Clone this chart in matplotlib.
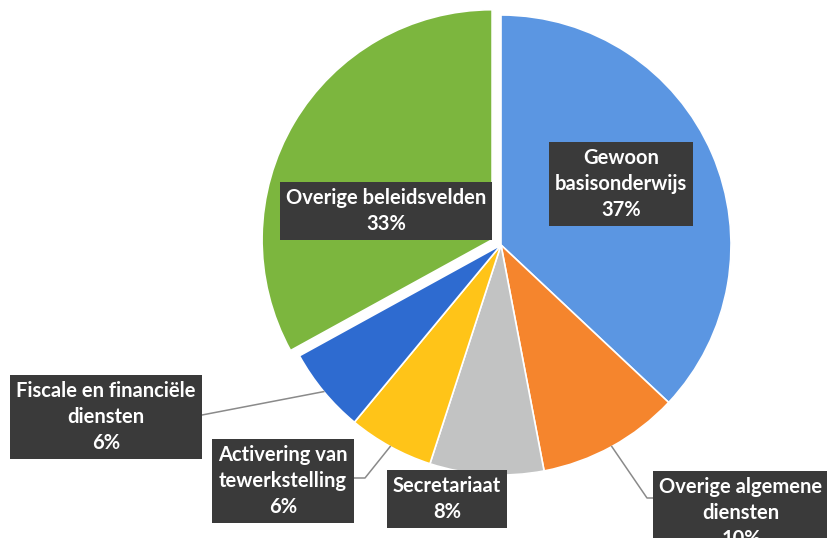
import numpy as np
import matplotlib.pyplot as plt

# slices, clockwise from 12 o'clock
labels = ['Gewoon\nbasisonderwijs', 'Overige algemene\ndiensten', 'Secretariaat',
          'Activering van\ntewerkstelling', 'Fiscale en financiële\ndiensten',
          'Overige beleidsvelden']
values = [37, 10, 8, 6, 6, 33]
colors = ['#5b96e2', '#f5852d', '#c2c3c3', '#ffc418', '#2e6bd0', '#7cb63e']
explode = [0, 0, 0, 0, 0, 0.045]

W, H = 827, 538
CX, CY, R = 501, 245, 230          # pie centre / radius in image pixels

# label box centres (image pixels) and optional elbow point of the leader line
label_pos = [(621, 184), (741, 513), (447, 499), (283, 481), (106, 417), (386, 211)]
elbows = [None, [(647, 498), (653, 498)], None, [(365, 478), (353, 478)],
          [(202, 415)], None]


def fy(y):
    return H - y


fig = plt.figure(figsize=(W / 100, H / 100), dpi=100)
ax = fig.add_axes([0, 0, 1, 1])

# pie() takes explode in data units, so scale by the radius
wedges, _ = ax.pie(values, colors=colors, explode=[e * R for e in explode],
                   startangle=90, counterclock=False, center=(CX, fy(CY)),
                   radius=R, wedgeprops=dict(edgecolor='white', linewidth=1.2),
                   frame=True)
ax.set_xlim(0, W)
ax.set_ylim(0, H)
ax.axis('off')

# leader lines from the middle of the wedge rim to the box
for w, el in zip(wedges, elbows):
    if el is None:
        continue
    mid = np.deg2rad((w.theta1 + w.theta2) / 2)
    px = w.center[0] + w.r * np.cos(mid)
    py = w.center[1] + w.r * np.sin(mid)
    xs = [px] + [p[0] for p in el]
    ys = [py] + [fy(p[1]) for p in el]
    ax.plot(xs, ys, color='#8a8a8a', lw=1.1, zorder=3)

for lab, v, (x, y) in zip(labels, values, label_pos):
    ax.text(x, fy(y), f'{lab}\n{v}%', ha='center', va='center',
            color='white', fontsize=14.5, fontweight='bold', family='Lato',
            linespacing=1.4, zorder=5,
            bbox=dict(boxstyle='square,pad=0.3', facecolor='#3a3a3a',
                      edgecolor='none'))

fig.savefig('out.png', dpi=100, facecolor='white')
